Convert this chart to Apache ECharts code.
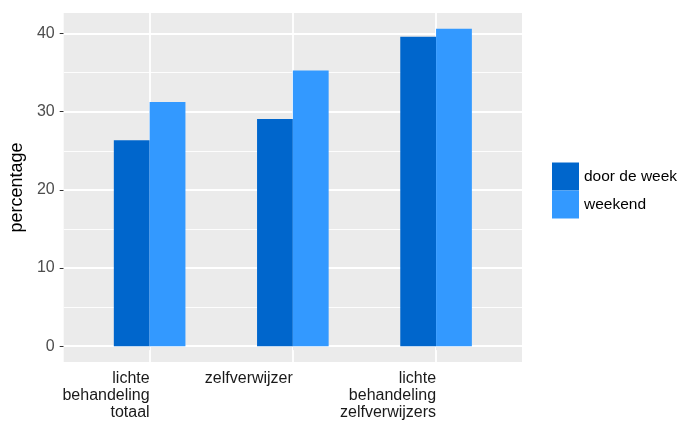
<!DOCTYPE html>
<html>
<head>
<meta charset="utf-8">
<script src="https://cdn.jsdelivr.net/npm/echarts@6/dist/echarts.min.js"></script>
<style>
html,body{margin:0;padding:0;background:#fff;}
#c{width:678px;height:423px;}
</style>
</head>
<body>
<div id="c"></div>
<script>
const categories = ['lichte\nbehandeling\ntotaal', 'zelfverwijzer', 'lichte\nbehandeling\nzelfverwijzers'];
const seriesNames = ['door de week', 'weekend'];
const doorDeWeek = [26.35, 29.06, 39.6];
const weekend = [31.25, 35.26, 40.6];
const yMajorTicks = [0, 10, 20, 30, 40];
const yMinorTicks = [5, 15, 25, 35];

const catPos = categories.map((c, i) => i + 1);
const yMax = Math.max(...doorDeWeek, ...weekend);
const yPad = yMax * 0.05;

const font = 'Liberation Sans, Arial, sans-serif';
const chart = echarts.init(document.getElementById('c'), null, {renderer: 'canvas'});

const gridLines = []
  .concat(yMajorTicks.map(v => ({yAxis: v, lineStyle: {color: '#ffffff', width: 1.8, type: 'solid'}})))
  .concat(yMinorTicks.map(v => ({yAxis: v, lineStyle: {color: '#ffffff', width: 0.9, type: 'solid'}})))
  .concat(catPos.map(v => ({xAxis: v, lineStyle: {color: '#ffffff', width: 1.8, type: 'solid'}})));

chart.setOption({
  animation: false,
  backgroundColor: '#ffffff',
  textStyle: {fontFamily: font},
  grid: {
    left: 60.5, right: 156, top: 13, bottom: 61,
    show: true, backgroundColor: '#EBEBEB', borderWidth: 0
  },
  legend: {
    orient: 'vertical',
    left: 552, top: 162.5,
    padding: 0,
    itemWidth: 27, itemHeight: 28, itemGap: 0,
    icon: 'rect',
    data: seriesNames,
    textStyle: {fontFamily: font, fontSize: 15.5, color: '#000000'}
  },
  xAxis: {
    type: 'value',
    min: 0.4, max: 3.6,
    axisLine: {show: false},
    splitLine: {show: false},
    axisTick: {show: true, customValues: catPos, length: 4, lineStyle: {color: '#333333', width: 1}},
    axisLabel: {
      customValues: catPos,
      formatter: v => categories[Math.round(v) - 1],
      align: 'right',
      margin: 8,
      fontFamily: font, fontSize: 16, lineHeight: 17, color: '#1a1a1a'
    }
  },
  yAxis: {
    type: 'value',
    min: -yPad, max: yMax + yPad,
    name: 'percentage',
    nameLocation: 'middle',
    nameRotate: 90,
    nameGap: 36,
    nameTextStyle: {fontFamily: font, fontSize: 18, color: '#000000'},
    axisLine: {show: false},
    splitLine: {show: false},
    axisTick: {show: true, customValues: yMajorTicks, length: 4, lineStyle: {color: '#333333', width: 1}},
    axisLabel: {
      customValues: yMajorTicks,
      margin: 9,
      fontFamily: font, fontSize: 16, color: '#4D4D4D'
    }
  },
  series: [
    {
      name: 'grid',
      type: 'line',
      data: [],
      silent: true,
      markLine: {
        silent: true,
        z: 1,
        animation: false,
        symbol: ['none', 'none'],
        label: {show: false},
        data: gridLines
      }
    },
    {
      name: seriesNames[0],
      type: 'bar',
      barWidth: '25%',
      barGap: '0%',
      itemStyle: {color: '#0066CC'},
      data: catPos.map((x, i) => [x, doorDeWeek[i]])
    },
    {
      name: seriesNames[1],
      type: 'bar',
      barWidth: '25%',
      barGap: '0%',
      itemStyle: {color: '#3399FF'},
      data: catPos.map((x, i) => [x, weekend[i]])
    }
  ]
});
</script>
</body>
</html>
